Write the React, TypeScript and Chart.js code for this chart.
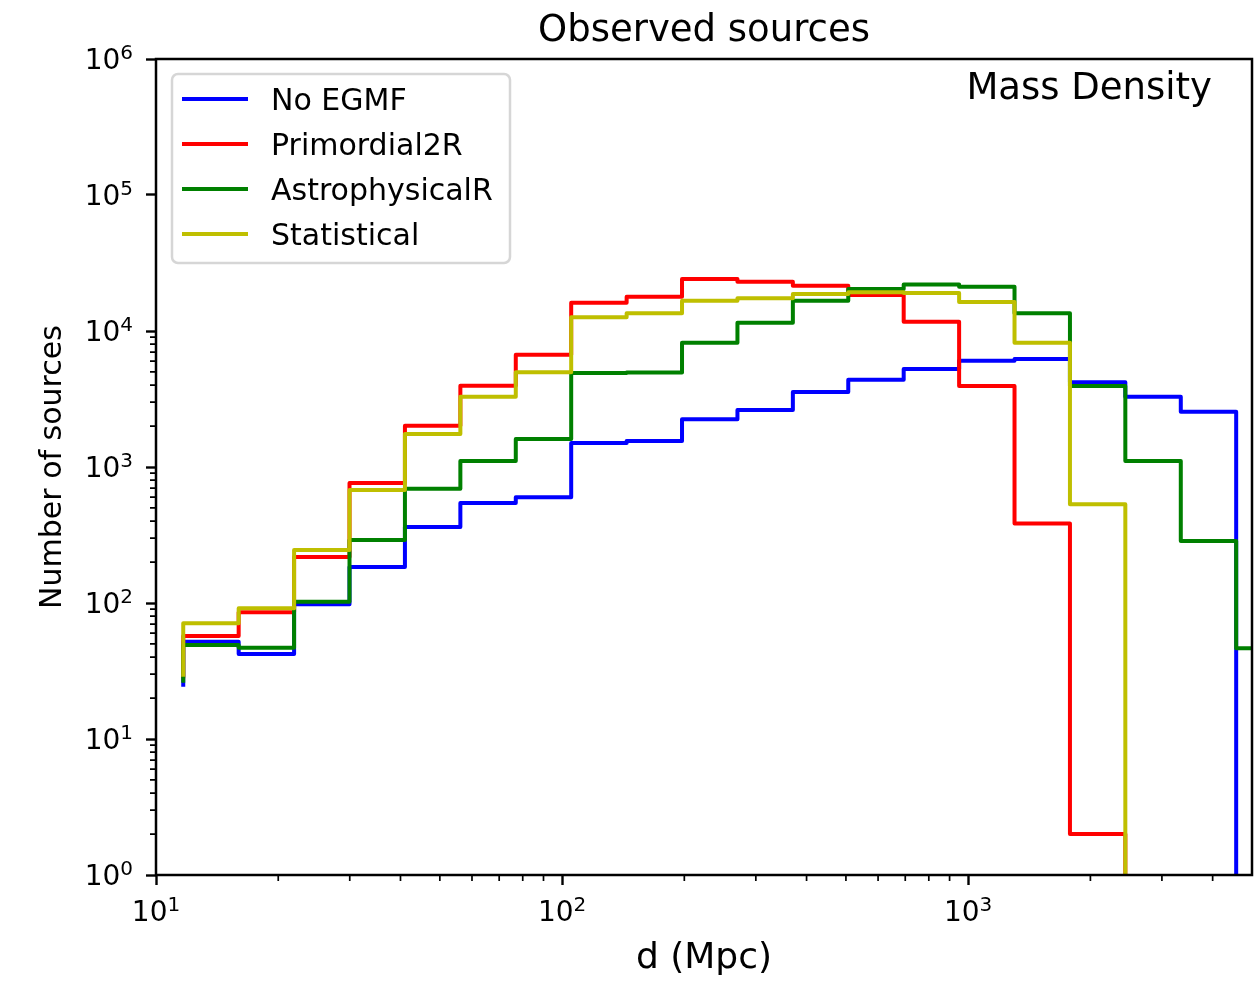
import React, { useEffect, useRef } from 'react';
import { Chart, registerables } from 'chart.js';

Chart.register(...registerables);

// ---- data ----
const binEdges = [11.67, 15.98, 21.88, 29.96, 41.02, 56.17, 76.91, 105.3, 144.2, 197.4, 270.3, 370.1, 506.7, 693.8, 950.0, 1300.7, 1781, 2438, 3339, 4571, 6258];

const noEgmf = [51.9, 42.2, 98, 184, 362, 543, 599, 1501, 1553, 2243, 2625, 3557, 4385, 5255, 6050, 6222, 4196, 3290, 2553, 0];
const primordial2R = [57.2, 85.5, 218, 762, 2013, 3960, 6696, 16150, 17870, 24120, 23050, 21520, 18400, 11700, 3942, 385, 2.0, 0, 0, 0];
const astrophysicalR = [49.1, 46.9, 102, 290, 692, 1107, 1607, 4910, 4950, 8200, 11510, 16700, 20360, 22010, 21140, 13490, 3940, 1107, 286, 46.5];
const statistical = [71, 91.4, 245, 678, 1749, 3289, 4966, 12610, 13490, 16700, 17380, 18700, 19250, 19000, 16330, 8200, 532, 0, 0, 0];

// where each step line starts at the first bin edge
const startValues = [24.2, 28, 25.9, 28.7];

const seriesLabels = ['No EGMF', 'Primordial2R', 'AstrophysicalR', 'Statistical'];
const seriesColors = ['#0000ff', '#ff0000', '#008000', '#bfbf00'];

const xTickValues = [10, 100, 1000];
const xTickExponents = ['1', '2', '3'];
const yTickValues = [1, 10, 100, 1000, 10000, 100000, 1000000];
const yTickExponents = ['0', '1', '2', '3', '4', '5', '6'];
const tickBase = '10';
const minorMultipliers = [2, 3, 4, 5, 6, 7, 8, 9];

const X_MIN = 10;
const X_MAX = 5000;
const Y_MIN = 1;
const Y_MAX = 1000000;

const FONT = "'DejaVu Sans', sans-serif";
const TICK_SIZE = 28;
const SUP_SIZE = 20;
const SUP_RAISE = 10;
// zero counts cannot sit on a log axis: put them below the axis, where they are clipped
const BELOW_AXIS = 1e-3;

function stepPoints(start: number, values: number[]) {
  const pts: { x: number; y: number }[] = [{ x: binEdges[0], y: start }];
  values.forEach((v, i) => pts.push({ x: binEdges[i], y: v > 0 ? v : BELOW_AXIS }));
  pts.push({ x: binEdges[binEdges.length - 1], y: BELOW_AXIS });
  return pts;
}

const seriesValues = [noEgmf, primordial2R, astrophysicalR, statistical];

function drawPower(ctx: any, exp: string, x: number, baseline: number, align: 'center' | 'right') {
  ctx.font = `${TICK_SIZE}px ${FONT}`;
  const wBase = ctx.measureText(tickBase).width;
  ctx.font = `${SUP_SIZE}px ${FONT}`;
  const wExp = ctx.measureText(exp).width;
  const total = wBase + wExp;
  const left = align === 'center' ? x - total / 2 : x - total;
  ctx.textAlign = 'left';
  ctx.textBaseline = 'alphabetic';
  ctx.font = `${TICK_SIZE}px ${FONT}`;
  ctx.fillText(tickBase, left, baseline);
  ctx.font = `${SUP_SIZE}px ${FONT}`;
  ctx.fillText(exp, left + wBase, baseline - SUP_RAISE);
}

const axisDecorPlugin = {
  id: 'axisDecor',
  afterDraw(chart: any) {
    const { ctx, chartArea } = chart;
    const xs = chart.scales.x;
    const ys = chart.scales.y;
    ctx.save();
    // minor ticks
    ctx.strokeStyle = '#000';
    ctx.lineWidth = 1.7;
    ctx.beginPath();
    for (let d = 1; d < 10000; d *= 10) {
      minorMultipliers.forEach((m) => {
        const v = d * m;
        if (v > X_MIN && v < X_MAX) {
          const px = xs.getPixelForValue(v);
          ctx.moveTo(px, chartArea.bottom);
          ctx.lineTo(px, chartArea.bottom + 6);
        }
        if (v > Y_MIN && v < Y_MAX) {
          const py = ys.getPixelForValue(v);
          ctx.moveTo(chartArea.left, py);
          ctx.lineTo(chartArea.left - 6, py);
        }
      });
    }
    ctx.stroke();
    // tick labels in "10 to the power" form
    ctx.fillStyle = '#000';
    xTickValues.forEach((v, i) => {
      drawPower(ctx, xTickExponents[i], xs.getPixelForValue(v), chartArea.bottom + 45.5, 'center');
    });
    yTickValues.forEach((v, i) => {
      const py = ys.getPixelForValue(v);
      drawPower(ctx, yTickExponents[i], chartArea.left - 23, py + 10.2, 'right');
    });
    ctx.restore();
  },
};

const framePlugin = {
  id: 'frame',
  afterDatasetsDraw(chart: any) {
    const { ctx, chartArea } = chart;
    ctx.save();
    ctx.strokeStyle = '#000';
    ctx.lineWidth = 2.5;
    ctx.strokeRect(chartArea.left, chartArea.top, chartArea.right - chartArea.left, chartArea.bottom - chartArea.top);
    ctx.restore();
  },
};

const legendPlugin = {
  id: 'mplLegend',
  afterDatasetsDraw(chart: any) {
    const { ctx, chartArea } = chart;
    const bx = chartArea.left + 16;
    const by = chartArea.top + 15;
    const bw = 338;
    const bh = 189;
    ctx.save();
    ctx.beginPath();
    ctx.roundRect(bx, by, bw, bh, 6);
    ctx.fillStyle = 'rgba(255,255,255,0.8)';
    ctx.fill();
    ctx.lineWidth = 2.5;
    ctx.strokeStyle = 'rgba(204,204,204,0.8)';
    ctx.stroke();
    chart.data.datasets.forEach((ds: any, i: number) => {
      const y = by + 25 + i * 45;
      ctx.beginPath();
      ctx.strokeStyle = ds.borderColor;
      ctx.lineWidth = 4;
      ctx.moveTo(bx + 10, y);
      ctx.lineTo(bx + 76, y);
      ctx.stroke();
      ctx.fillStyle = '#000';
      ctx.font = `30px ${FONT}`;
      ctx.textAlign = 'left';
      ctx.textBaseline = 'alphabetic';
      ctx.fillText(ds.label, bx + 99, y + 11);
    });
    // annotation in the top-right corner
    ctx.font = `37px ${FONT}`;
    ctx.textAlign = 'right';
    ctx.fillStyle = '#000';
    ctx.fillText('Mass Density', chartArea.right - 40, chartArea.top + 40);
    ctx.restore();
  },
};

export default function App() {
  const ref = useRef<HTMLCanvasElement>(null);
  useEffect(() => {
    document.body.style.margin = '0';
    const canvas = ref.current;
    if (!canvas) return;
    const datasets = seriesLabels.map((label, i) => ({
      label,
      data: stepPoints(startValues[i], seriesValues[i]),
      borderColor: seriesColors[i],
      backgroundColor: seriesColors[i],
      borderWidth: 4,
      pointRadius: 0,
      stepped: 'before' as const,
      fill: false,
      clip: 0,
      borderJoinStyle: 'round' as const,
      order: seriesLabels.length - i,
    }));
    const chart = new Chart(canvas, {
      type: 'line',
      data: { datasets },
      options: {
        responsive: false,
        animation: false,
        layout: { padding: { left: 0, right: 4, top: 0, bottom: 0 } },
        plugins: {
          legend: { display: false },
          tooltip: { enabled: false },
          title: {
            display: true,
            text: 'Observed sources',
            fullSize: false,
            color: '#000',
            font: { family: FONT, size: 37, weight: 'normal', lineHeight: 1.2 },
            padding: { top: 8.8, bottom: 5.8 },
          },
        },
        scales: {
          x: {
            type: 'logarithmic',
            min: X_MIN,
            max: X_MAX,
            afterBuildTicks: (s: any) => {
              s.ticks = xTickValues.map((v) => ({ value: v }));
            },
            afterFit: (s: any) => {
              s.height = 108;
            },
            ticks: { display: false, autoSkip: false, maxRotation: 0, minRotation: 0 },
            grid: { drawOnChartArea: false, drawTicks: true, tickLength: 10, tickWidth: 2.4, tickColor: '#000' },
            border: { display: false },
            title: {
              display: true,
              text: 'd (Mpc)',
              color: '#000',
              font: { family: FONT, size: 36, lineHeight: 1.2 },
              padding: { top: 0, bottom: 2.5 },
            },
          },
          y: {
            type: 'logarithmic',
            min: Y_MIN,
            max: Y_MAX,
            afterBuildTicks: (s: any) => {
              s.ticks = yTickValues.map((v) => ({ value: v }));
            },
            afterFit: (s: any) => {
              s.width = 156;
            },
            ticks: { display: false, autoSkip: false },
            grid: { drawOnChartArea: false, drawTicks: true, tickLength: 10, tickWidth: 2.4, tickColor: '#000' },
            border: { display: false },
            title: {
              display: true,
              text: 'Number of sources',
              color: '#000',
              font: { family: FONT, size: 30, lineHeight: 1.2 },
              padding: { top: 35, bottom: 0 },
            },
          },
        },
      },
      plugins: [axisDecorPlugin, framePlugin, legendPlugin],
    } as any);
    return () => chart.destroy();
  }, []);
  return (
    <div style={{ width: 1256, height: 983 }}>
      <canvas ref={ref} width={1256} height={983} style={{ display: 'block' }} />
    </div>
  );
}
